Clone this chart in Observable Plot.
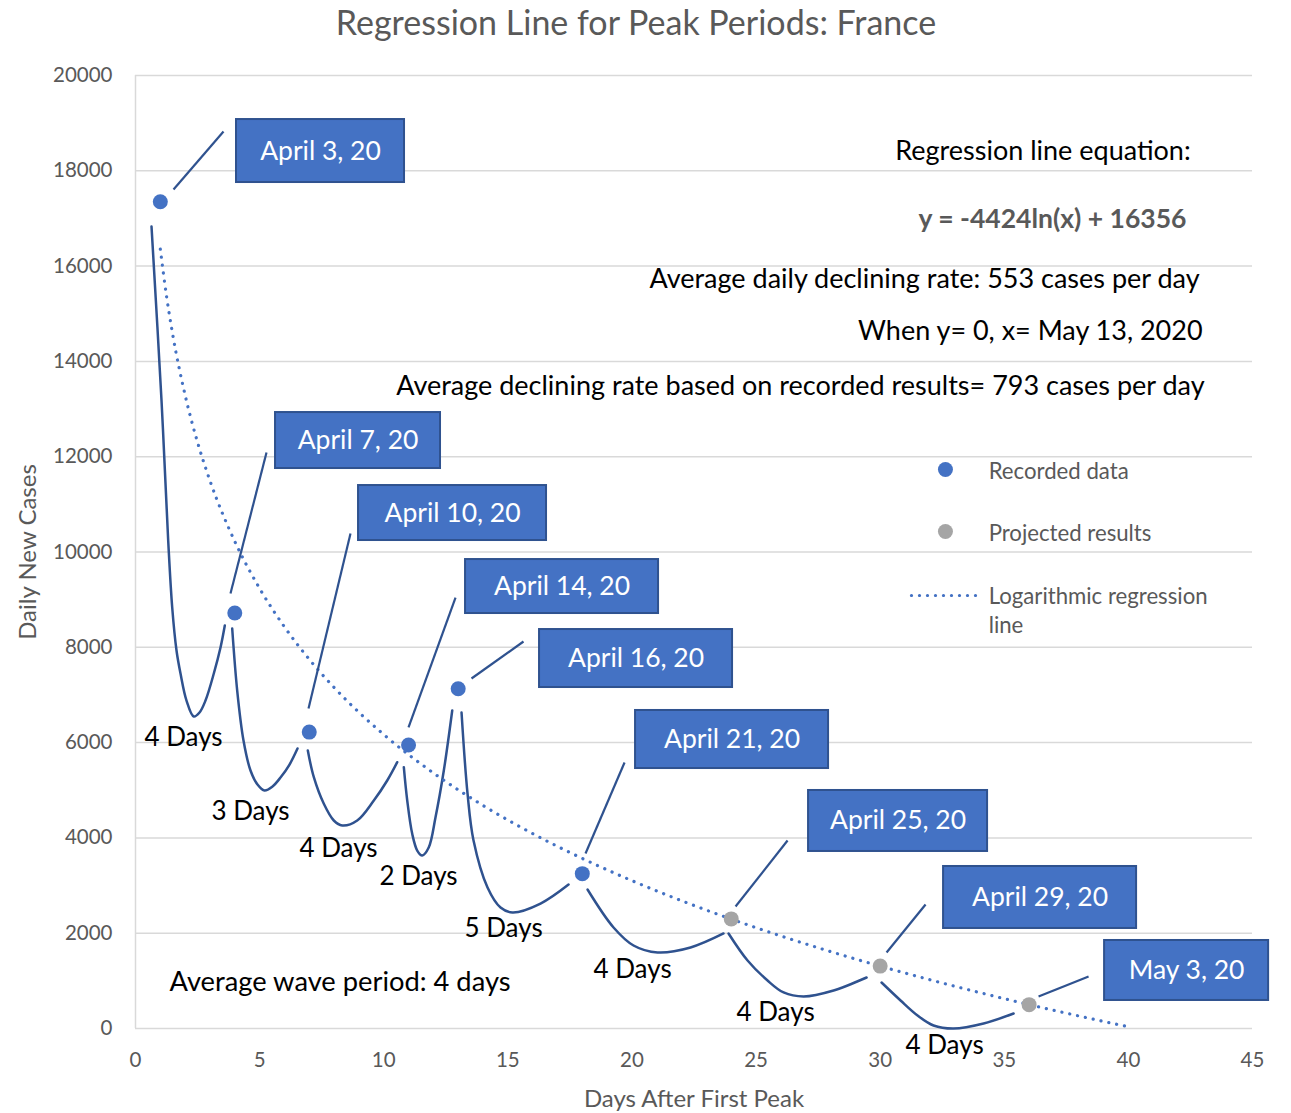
<!DOCTYPE html>
<html><head><meta charset="utf-8">
<script src="https://cdn.jsdelivr.net/npm/d3@7"></script>
<script src="https://cdn.jsdelivr.net/npm/@observablehq/plot@0.6"></script>
<style>
body{margin:0;background:#fff;}
#wrap{position:relative;width:1291px;height:1113px;font-family:Lato,sans-serif;background:#fff;}
#title{position:absolute;left:0;top:0;width:1272px;text-align:center;font-size:34px;line-height:44px;color:#595959;}
#chart{position:absolute;left:0;top:50px;}
</style></head><body>
<div id="wrap"><div id="title">Regression Line for Peak Periods: France</div><div id="chart"></div></div>
<script>
// ---- tick labels ----
const xTicks = [0, 5, 10, 15, 20, 25, 30, 35, 40, 45];
const yTicks = [0, 2000, 4000, 6000, 8000, 10000, 12000, 14000, 16000, 18000, 20000];

// ---- recorded & projected peaks ----
const recordedDay = [1, 4, 7, 11, 13, 18];
const recordedCases = [17350, 8720, 6220, 5950, 7130, 3250];
const projectedDay = [24, 30, 36];
const projectedCases = [2300, 1310, 500];

// ---- logarithmic regression line ----
const regressionDay = [1, 1.25, 1.5, 2, 2.5, 3, 4, 5, 6, 7, 8, 10, 12, 14, 16, 18, 20, 22, 24, 26, 28, 30, 32, 34, 36, 38, 40];
const regressionCases = [16356, 15369, 14562, 13290, 12302, 11496, 10223, 9236, 8429, 7747, 7157, 6169, 5363, 4681, 4090, 3569, 3103, 2681, 2296, 1942, 1614, 1309, 1024, 755, 502, 263, 36];

// ---- wave curve (hand-drawn troughs between peaks) ----
const waveSegment = [
  1,1,1,1,1,1,1,1,1,1,1,1,1,
  2,2,2,2,2,2,2,2,2,2,
  3,3,3,3,3,3,3,3,3,
  4,4,4,4,4,4,4,4,4,
  5,5,5,5,5,5,5,5,
  6,6,6,6,6,6,
  7,7,7,7,7,7,7,
  8,8,8,8,8,8,8
];
const waveDay = [
  0.645, 1.048, 1.317, 1.479, 1.652, 1.813, 2.055, 2.349, 2.579, 2.820, 3.155, 3.425, 3.598,
  3.896, 4.097, 4.351, 4.633, 4.915, 5.197, 5.520, 5.842, 6.205, 6.527,
  6.942, 7.184, 7.587, 7.989, 8.328, 8.932, 9.601, 10.141, 10.544,
  10.810, 10.947, 11.148, 11.350, 11.551, 11.817, 12.087, 12.421, 12.760,
  13.135, 13.376, 13.618, 14.182, 14.706, 15.189, 16.317, 17.446,
  18.211, 19.259, 20.064, 21.031, 22.361, 23.690,
  23.892, 24.658, 25.463, 26.108, 26.914, 28.123, 29.452,
  30.056, 30.822, 31.507, 32.151, 32.957, 34.166, 35.375
];
const waveCases = [
  16831, 13179, 10241, 8835, 7933, 7450, 6883, 6548, 6632, 6883, 7450, 7996, 8457,
  8394, 7093, 6044, 5414, 5121, 4995, 5079, 5267, 5540, 5876,
  5834, 5274, 4716, 4365, 4260, 4365, 4785, 5205, 5589,
  5484, 4785, 4085, 3735, 3631, 3805, 4434, 5414, 6674,
  6632, 4932, 3945, 2959, 2539, 2434, 2623, 3022,
  2917, 2120, 1742, 1595, 1700, 1994,
  1994, 1427, 1007, 756, 672, 797, 1070,
  965, 588, 273, 63, 0, 105, 315
];

// ---- date callouts ----
const calloutText = ["April 3, 20", "April 7, 20", "April 10, 20", "April 14, 20", "April 16, 20", "April 21, 20", "April 25, 20", "April 29, 20", "May 3, 20"];
const calloutFromDay = [1.531, 3.827, 6.970, 10.999, 13.537, 18.130, 24.174, 30.258, 36.381];
const calloutFromCases = [17607, 9129, 6716, 6317, 7345, 3673, 2560, 1595, 672];
const calloutToDay = [3.546, 5.278, 8.662, 12.893, 15.632, 19.702, 26.269, 31.829, 38.396];
const calloutToCases = [18824, 12088, 10388, 9045, 8122, 5582, 3945, 2602, 1091];
const boxDay1 = [4.069, 5.641, 8.985, 13.296, 16.277, 20.145, 27.115, 32.554, 39.041];
const boxDay2 = [10.838, 12.288, 16.559, 21.072, 24.053, 27.921, 34.327, 40.330, 45.649];
const boxCases1 = [19076, 12927, 11395, 9842, 8373, 6674, 4995, 3400, 1847];
const boxCases2 = [17754, 11752, 10241, 8709, 7156, 5456, 3715, 2099, 588];

// ---- wave period labels ----
const periodText = ["4 Days", "3 Days", "4 Days", "2 Days", "5 Days", "4 Days", "4 Days", "4 Days"];
const periodDay = [1.934, 4.633, 8.179, 11.402, 14.827, 20.024, 25.785, 32.594];
const periodCases = [6107, 4554, 3777, 3190, 2099, 1238, 336, -357];

// ---- notes ----
const noteText = ["Regression line equation:", "Average daily declining rate: 553 cases per day", "When y= 0, x= May 13, 2020", "Average declining rate based on recorded results= 793 cases per day"];
const noteDay = [42.51, 42.87, 42.99, 43.07];
const noteCases = [18405, 15718, 14627, 13473];
const equationText = ["y = -4424ln(x) + 16356"];
const equationDay = [42.34];
const equationCases = [16978];
const waveNote = ["Average wave period: 4 days"];
const waveNoteDay = [1.37];
const waveNoteCases = [965];

// ---- legend ----
const legendLabels = ["Recorded data", "Projected results", "Logarithmic regression\nline"];
const legendSymbolDay = [32.63, 32.63];
const legendSymbolCases = [11731, 10430];
const legendLineDay = [31.26, 33.96];
const legendLineCases = [9087, 9087];
const legendTextDay = [34.37, 34.37, 34.37];
const legendTextCases = [11731, 10430, 8793];

const blue = "#4472C4", navy = "#2F528F", grey = "#A5A5A5", txtGrey = "#595959";

const idx = a => a.map((_, i) => i);
const wave = waveDay.map((d, i) => ({seg: waveSegment[i], day: d, cases: waveCases[i]}));
const reg = regressionDay.map((d, i) => ({day: d, cases: regressionCases[i]}));
const legLine = legendLineDay.map((d, i) => ({day: d, cases: legendLineCases[i]}));

const chart = Plot.plot({
  width: 1291,
  height: 1063,
  marginTop: 25,
  marginBottom: 85,
  marginLeft: 135,
  marginRight: 39,
  style: {fontFamily: "Lato, sans-serif", fontSize: "20px", background: "white", overflow: "visible"},
  x: {domain: [0, 45]},
  y: {domain: [0, 20000]},
  marks: [
    Plot.gridY(yTicks, {stroke: "#d9d9d9", strokeOpacity: 1, strokeWidth: 1.5}),
    Plot.ruleX([0], {stroke: "#d9d9d9", strokeWidth: 1.5}),
    Plot.axisX(xTicks, {tickSize: 0, tickPadding: 24, fontSize: 20.5, fill: txtGrey, label: null, tickFormat: d => String(d)}),
    Plot.axisY(yTicks, {tickSize: 0, tickPadding: 23, fontSize: 20.5, fill: txtGrey, label: null, tickFormat: d => String(d)}),
    Plot.text(["Days After First Peak"], {text: d => d, frameAnchor: "bottom", lineAnchor: "middle", textAnchor: "middle", dy: 71, fontSize: 24, fill: txtGrey}),
    Plot.text(["Daily New Cases"], {text: d => d, frameAnchor: "left", textAnchor: "middle", lineAnchor: "middle", rotate: -90, dx: -107, fontSize: 24, fill: txtGrey}),
    // wave curve
    Plot.line(wave, {x: "day", y: "cases", z: "seg", curve: "catmull-rom", stroke: navy, strokeWidth: 2.5}),
    // regression
    Plot.line(reg, {x: "day", y: "cases", curve: "monotone-x", stroke: blue, strokeWidth: 3.2, strokeDasharray: "0.1,7.9", strokeLinecap: "round"}),
    // callout connectors
    Plot.link(idx(calloutText), {x1: i => calloutFromDay[i], y1: i => calloutFromCases[i], x2: i => calloutToDay[i], y2: i => calloutToCases[i], stroke: navy, strokeWidth: 2.2}),
    // points
    Plot.dot(idx(recordedDay), {x: i => recordedDay[i], y: i => recordedCases[i], r: 7.5, fill: blue}),
    Plot.dot(idx(projectedDay), {x: i => projectedDay[i], y: i => projectedCases[i], r: 7.5, fill: grey}),
    // callout boxes
    Plot.rect(idx(calloutText), {x1: i => boxDay1[i], x2: i => boxDay2[i], y1: i => boxCases1[i], y2: i => boxCases2[i], fill: blue, stroke: navy, strokeWidth: 2}),
    Plot.text(idx(calloutText), {x: i => (boxDay1[i] + boxDay2[i]) / 2, y: i => (boxCases1[i] + boxCases2[i]) / 2, text: i => calloutText[i], fill: "white", fontSize: 26.5}),
    // period labels
    Plot.text(idx(periodText), {x: i => periodDay[i], y: i => periodCases[i], text: i => periodText[i], fill: "black", fontSize: 26}),
    // notes
    Plot.text(idx(noteText), {x: i => noteDay[i], y: i => noteCases[i], text: i => noteText[i], textAnchor: "end", fill: "black", fontSize: 27}),
    Plot.text(idx(equationText), {x: i => equationDay[i], y: i => equationCases[i], text: i => equationText[i], textAnchor: "end", fill: txtGrey, fontSize: 26.5, fontWeight: "bold"}),
    Plot.text(idx(waveNote), {x: i => waveNoteDay[i], y: i => waveNoteCases[i], text: i => waveNote[i], textAnchor: "start", fill: "black", fontSize: 27.3}),
    // legend
    Plot.dot([0, 1], {x: i => legendSymbolDay[i], y: i => legendSymbolCases[i], r: 7.5, fill: i => [blue, grey][i]}),
    Plot.line(legLine, {x: "day", y: "cases", stroke: blue, strokeWidth: 3.2, strokeDasharray: "0.1,7.9", strokeLinecap: "round"}),
    Plot.text(idx(legendLabels), {x: i => legendTextDay[i], y: i => legendTextCases[i], text: i => legendLabels[i], textAnchor: "start", fill: txtGrey, fontSize: 22.2, lineHeight: 1.27})
  ]
});
document.getElementById("chart").appendChild(chart);
</script>
</body></html>
